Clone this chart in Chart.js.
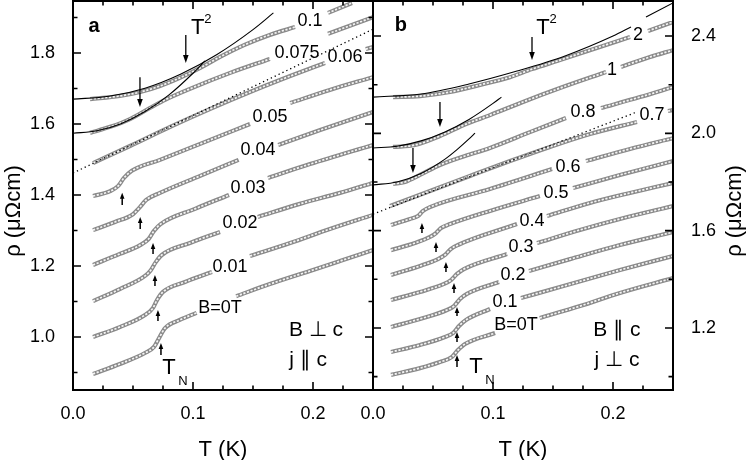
<!DOCTYPE html>
<html>
<head>
<meta charset="utf-8">
<script src="https://cdn.jsdelivr.net/npm/chart.js@4.4.1/dist/chart.umd.min.js"></script>
<style>
  html, body { margin: 0; padding: 0; background: #fff; }
  #wrap { position: relative; width: 747px; height: 460px; overflow: hidden; }
  #cA { position: absolute; left: 0; top: 0; }
  #cB { position: absolute; left: 340px; top: 0; }
</style>
</head>
<body>
<div id="wrap">
  <canvas id="cA" width="376" height="460"></canvas>
  <canvas id="cB" width="407" height="460"></canvas>
</div>
<script>
/* ---- Panel a: B ⊥ c, curves (T in K, rho in µΩcm), null = gap for the label ---- */
const aT_0   = [0.0167, 0.039, 0.060, 0.0675, 0.0717, 0.0767, 0.089, 0.103, 0.12, 0.136, 0.164, 0.1975, 0.2225, 0.25];
const aR_0   = [0.896, 0.924, 0.955, 0.972, 0.997, 1.025, 1.048, 1.068, null, 1.115, 1.149, 1.186, 1.214, 1.245];
const aT_01  = [0.0167, 0.039, 0.060, 0.0667, 0.070, 0.075, 0.0933, 0.1158, 0.13, 0.1475, 0.181, 0.214, 0.25];
const aR_01  = [1.000, 1.028, 1.062, 1.082, 1.104, 1.127, 1.155, 1.183, null, 1.228, 1.265, 1.304, 1.344];
const aT_02  = [0.0167, 0.039, 0.060, 0.065, 0.069, 0.074, 0.0975, 0.1225, 0.14, 0.154, 0.189, 0.2225, 0.25];
const aR_02  = [1.101, 1.135, 1.172, 1.189, 1.211, 1.231, 1.265, 1.296, null, 1.338, 1.375, 1.406, 1.434];
const aT_03  = [0.0167, 0.039, 0.056, 0.063, 0.0675, 0.073, 0.1017, 0.13, 0.146, 0.1625, 0.1975, 0.25];
const aR_03  = [1.203, 1.234, 1.259, 1.276, 1.299, 1.318, 1.361, 1.400, null, 1.448, 1.487, 1.541];
const aT_04  = [0.0167, 0.035, 0.05, 0.055, 0.061, 0.0725, 0.106, 0.138, 0.155, 0.171, 0.206, 0.25];
const aR_04  = [1.301, 1.324, 1.346, 1.363, 1.386, 1.406, 1.454, 1.499, null, 1.541, 1.583, 1.634];
const aT_05  = [0.0167, 0.031, 0.0375, 0.0425, 0.049, 0.0725, 0.106, 0.1475, 0.165, 0.181, 0.214, 0.25];
const aR_05  = [1.397, 1.411, 1.425, 1.448, 1.468, 1.499, 1.544, 1.600, null, 1.659, 1.696, 1.732];
const aT_06  = [0.0167, 0.0475, 0.081, 0.114, 0.1475, 0.181, 0.21, 0.227, 0.244, 0.25];
const aR_06  = [1.490, 1.538, 1.592, 1.642, 1.690, 1.735, 1.772, null, 1.811, 1.817];
const aT_075 = [0.0142, 0.031, 0.0475, 0.064, 0.0767, 0.0975, 0.131, 0.164, 0.187, 0.2125, 0.25];
const aR_075 = [1.575, 1.592, 1.614, 1.645, 1.668, 1.699, 1.744, 1.783, null, 1.854, 1.901];
const aT_1   = [0.0142, 0.039, 0.056, 0.0725, 0.089, 0.106, 0.1225, 0.143, 0.164, 0.185, 0.198, 0.2125, 0.2325];
const aR_1   = [1.670, 1.679, 1.690, 1.707, 1.730, 1.758, 1.789, 1.823, 1.851, 1.873, null, 1.913, 1.941];

// T^2 fits and linear fit (dotted)
const aFitT_075 = [0, 0.02, 0.04, 0.06, 0.08, 0.1, 0.11];
const aFitR_075 = [1.574, 1.581, 1.601, 1.635, 1.682, 1.743, 1.778];
const aFitT_1   = [0, 0.03, 0.06, 0.09, 0.12, 0.15, 0.167];
const aFitR_1   = [1.670, 1.678, 1.701, 1.741, 1.796, 1.866, 1.913];
const aLinT_06  = [0, 0.25];
const aLinR_06  = [1.462, 1.867];

/* ---- Panel b: B ∥ c ---- */
const bT_0  = [0.015, 0.0392, 0.0558, 0.0658, 0.0708, 0.0767, 0.1017, 0.12, 0.139, 0.1725, 0.2058, 0.25];
const bR_0  = [1.007, 1.035, 1.060, 1.081, 1.109, 1.134, 1.179, null, 1.241, 1.290, 1.344, 1.405];
const bT_01 = [0.015, 0.0392, 0.06, 0.0667, 0.0717, 0.0775, 0.0975, 0.11, 0.1233, 0.1558, 0.2058, 0.25];
const bR_01 = [1.101, 1.130, 1.163, 1.179, 1.208, 1.233, 1.278, null, 1.323, 1.368, 1.438, 1.496];
const bT_02 = [0.015, 0.0392, 0.0617, 0.0675, 0.0725, 0.0783, 0.105, 0.117, 0.13, 0.1642, 0.2058, 0.25];
const bR_02 = [1.204, 1.237, 1.274, 1.290, 1.319, 1.340, 1.389, null, 1.434, 1.483, 1.541, 1.594];
const bT_03 = [0.015, 0.0392, 0.0592, 0.065, 0.07, 0.0758, 0.1117, 0.123, 0.1367, 0.1725, 0.2058, 0.25];
const bR_03 = [1.315, 1.348, 1.381, 1.397, 1.422, 1.442, 1.504, null, 1.549, 1.603, 1.648, 1.701];
const bT_04 = [0.015, 0.0392, 0.0542, 0.06, 0.065, 0.0708, 0.12, 0.133, 0.145, 0.1808, 0.2142, 0.25];
const bR_04 = [1.418, 1.455, 1.483, 1.500, 1.525, 1.541, 1.627, null, 1.660, 1.714, 1.755, 1.796];
const bT_05 = [0.015, 0.035, 0.0475, 0.0525, 0.0567, 0.0642, 0.0975, 0.139, 0.153, 0.1667, 0.2058, 0.25];
const bR_05 = [1.520, 1.549, 1.574, 1.590, 1.611, 1.627, 1.681, 1.742, null, 1.775, 1.829, 1.886];
const bT_06 = [0.015, 0.0308, 0.0375, 0.0417, 0.0475, 0.0975, 0.1492, 0.163, 0.1775, 0.2142, 0.25];
const bR_06 = [1.623, 1.648, 1.660, 1.681, 1.697, 1.771, 1.853, null, 1.886, 1.936, 1.980];
const bT_07 = [0.0142, 0.0475, 0.0808, 0.1142, 0.1475, 0.1808, 0.22, 0.233, 0.2458, 0.25];
const bR_07 = [1.701, 1.763, 1.825, 1.886, 1.944, 1.997, 2.047, null, 2.092, 2.096];
const bT_08 = [0.0167, 0.0267, 0.0392, 0.0558, 0.0767, 0.0975, 0.1308, 0.1608, 0.175, 0.19, 0.2225, 0.25];
const bR_08 = [1.792, 1.800, 1.829, 1.870, 1.907, 1.940, 2.005, 2.063, null, 2.104, 2.149, 2.190];
const bT_1  = [0.0167, 0.035, 0.0558, 0.0775, 0.0975, 0.125, 0.1558, 0.1942, 0.2, 0.2067, 0.2308, 0.25];
const bR_1  = [1.944, 1.952, 1.989, 2.038, 2.075, 2.129, 2.186, 2.252, null, 2.273, 2.314, 2.342];
const bT_2  = [0.0167, 0.0392, 0.0642, 0.0892, 0.1142, 0.1325, 0.1558, 0.1808, 0.2142, 0.221, 0.2292, 0.25];
const bR_2  = [2.149, 2.153, 2.170, 2.199, 2.231, 2.264, 2.301, 2.342, 2.396, null, 2.421, 2.458];

const bFitT_08 = [0, 0.02, 0.04, 0.06, 0.07, 0.08, 0.085];
const bFitR_08 = [1.788, 1.800, 1.835, 1.894, 1.933, 1.977, 2.001];
const bFitT_1  = [0, 0.02, 0.04, 0.06, 0.08, 0.1, 0.107];
const bFitR_1  = [1.940, 1.947, 1.969, 2.006, 2.057, 2.123, 2.149];
const bFitT_2  = [0, 0.04, 0.08, 0.12, 0.16, 0.2, 0.215, 0.221, 0.2275, 0.25];
const bFitR_2  = [2.149, 2.162, 2.203, 2.256, 2.318, 2.400, 2.437, null, 2.478, 2.536];
const bLinT_07 = [0, 0.22];
const bLinR_07 = [1.668, 2.088];

/* ---- Axis ticks ---- */
const xMajor  = [0, 0.1, 0.2];
const xMinor  = [0.025, 0.05, 0.075, 0.125, 0.15, 0.175, 0.225];
const aYMajor = [1.0, 1.2, 1.4, 1.6, 1.8];
const aYMinor = [0.9, 1.1, 1.3, 1.5, 1.7, 1.9];
const bYMajor = [1.2, 1.6, 2.0, 2.4];
const bYMinor = [1.0, 1.4, 1.8, 2.2];

/* ---- Annotations: curve labels [text, T, rho], arrows [T, rhoTail, rhoTip] ---- */
const aLabels = [['B=0T', 0.1225, 1.082], ['0.01', 0.1308, 1.197], ['0.02', 0.1392, 1.321],
  ['0.03', 0.1458, 1.420], ['0.04', 0.1542, 1.527], ['0.05', 0.1642, 1.620],
  ['0.075', 0.1867, 1.800], ['0.06', 0.2267, 1.789], ['0.1', 0.1975, 1.890]];
const bLabels = [['B=0T', 0.1192, 1.212], ['0.1', 0.11, 1.307], ['0.2', 0.1167, 1.418],
  ['0.3', 0.1233, 1.533], ['0.4', 0.1325, 1.640], ['0.5', 0.1525, 1.755],
  ['0.6', 0.1625, 1.862], ['0.7', 0.2325, 2.075], ['0.8', 0.175, 2.088],
  ['1', 0.1992, 2.260], ['2', 0.2208, 2.404]];
const aFitArrows = [[0.094, 1.851, 1.772], [0.0558, 1.732, 1.648]];
const aTnArrows  = [[0.041, 1.372, 1.406], [0.056, 1.304, 1.338], [0.0667, 1.234, 1.265],
  [0.0683, 1.144, 1.175], [0.0708, 1.045, 1.076], [0.0733, 0.949, 0.983]];
const bFitArrows = [[0.1325, 2.396, 2.301], [0.0558, 2.129, 2.026], [0.0333, 1.940, 1.837]];
const bTnArrows  = [[0.0408, 1.590, 1.631], [0.0525, 1.512, 1.553], [0.0608, 1.430, 1.471],
  [0.0675, 1.344, 1.385], [0.07, 1.249, 1.286], [0.07, 1.142, 1.183], [0.07, 1.040, 1.089]];

const FONT = '"Liberation Sans", Arial, Helvetica, sans-serif';
Chart.defaults.font.family = FONT;
Chart.defaults.color = '#000';

/* ---- helpers ---- */
const pts = (T, R) => T.map((t, i) => ({ x: t, y: R[i] }));

function chain(T, R) {
  // open-circle chain look: gray band with a broken light core
  return [
    { data: pts(T, R), showLine: true, borderColor: '#8a8a8a', borderWidth: 4.2, pointRadius: 0,
      spanGaps: false, cubicInterpolationMode: 'monotone', order: 3 },
    { data: pts(T, R), showLine: true, borderColor: '#f4f4f4', borderWidth: 1.7, borderDash: [2.2, 1.6],
      pointRadius: 0, spanGaps: false, cubicInterpolationMode: 'monotone', order: 2 }
  ];
}
function fitLine(T, R, dotted) {
  return { data: pts(T, R), showLine: true, borderColor: '#000', borderWidth: dotted ? 1.3 : 1.1,
    borderDash: dotted ? [1.3, 3] : [], pointRadius: 0, spanGaps: false,
    cubicInterpolationMode: 'monotone', order: 1 };
}

function arrow(ctx, x, y0, y1, head, hw, lw) {
  const dir = Math.sign(y1 - y0);
  ctx.lineWidth = lw;
  ctx.beginPath();
  ctx.moveTo(x, y0);
  ctx.lineTo(x, y1 - dir * head * 0.8);
  ctx.stroke();
  ctx.beginPath();
  ctx.moveTo(x, y1);
  ctx.lineTo(x - hw, y1 - dir * head);
  ctx.lineTo(x + hw, y1 - dir * head);
  ctx.closePath();
  ctx.fill();
}

function textAt(ctx, s, x, y, size, bold) {
  ctx.font = (bold ? 'bold ' : '') + size + 'px ' + FONT;
  ctx.textAlign = 'center';
  ctx.textBaseline = 'middle';
  ctx.fillText(s, x, y);
}

/* ---- Decoration plugin: frame, inward ticks, labels, arrows ---- */
function decor(p) {
  return {
    id: 'decor',
    afterDatasetsDraw(chart) {
      const { ctx, chartArea: ca, scales: { x, y } } = chart;
      ctx.save();
      ctx.fillStyle = '#000';
      ctx.strokeStyle = '#000';

      p.fitArrows.forEach(([t, r0, r1]) =>
        arrow(ctx, x.getPixelForValue(t), y.getPixelForValue(r0), y.getPixelForValue(r1), 8, 2.8, 1.3));
      p.tnArrows.forEach(([t, r0, r1]) =>
        arrow(ctx, x.getPixelForValue(t), y.getPixelForValue(r0), y.getPixelForValue(r1), 6, 2.3, 1.5));

      p.labels.forEach(([s, t, r]) => textAt(ctx, s, x.getPixelForValue(t), y.getPixelForValue(r), 18));

      // panel letter, T^2, field/current text, T_N
      textAt(ctx, p.letter[0], x.getPixelForValue(p.letter[1]), y.getPixelForValue(p.letter[2]), 20, true);
      const t2x = x.getPixelForValue(p.t2[0]), t2y = y.getPixelForValue(p.t2[1]);
      textAt(ctx, 'T', t2x, t2y, 22);
      textAt(ctx, '2', t2x + 10, t2y - 9, 13);
      const tnx = x.getPixelForValue(p.tn[0]), tny = y.getPixelForValue(p.tn[1]);
      textAt(ctx, 'T', tnx, tny, 22);
      textAt(ctx, 'N', tnx + 14, tny + 14, 13);
      p.geom.forEach(([s, t, r]) => textAt(ctx, s, x.getPixelForValue(t), y.getPixelForValue(r), 21));

      // frame
      ctx.lineWidth = 2;
      ctx.strokeRect(ca.left, ca.top, ca.right - ca.left, ca.bottom - ca.top);

      // inward ticks on all four sides
      ctx.lineWidth = 1.6;
      ctx.beginPath();
      const yTick = (v, len) => {
        const py = y.getPixelForValue(v);
        ctx.moveTo(ca.left, py); ctx.lineTo(ca.left + len, py);
        ctx.moveTo(ca.right, py); ctx.lineTo(ca.right - len, py);
      };
      const xTick = (v, len) => {
        const px = x.getPixelForValue(v);
        ctx.moveTo(px, ca.bottom); ctx.lineTo(px, ca.bottom - len);
        ctx.moveTo(px, ca.top); ctx.lineTo(px, ca.top + len);
      };
      p.yMajor.forEach(v => yTick(v, 8));
      p.yMinor.forEach(v => yTick(v, 4.5));
      xMajor.forEach(v => xTick(v, 8));
      xMinor.forEach(v => xTick(v, 4.5));
      ctx.stroke();

      // rotated y title
      ctx.save();
      ctx.translate(p.yTitleX, 211);
      ctx.rotate(-Math.PI / 2);
      textAt(ctx, 'ρ (μΩcm)', 0, 0, 22);
      ctx.restore();

      ctx.restore();
    }
  };
}

function makePanel(canvasId, sets, yMin, yMax, yMajor, side, pad, axisW, deco) {
  return new Chart(document.getElementById(canvasId), {
    type: 'scatter',
    data: { datasets: sets },
    options: {
      responsive: false,
      animation: false,
      events: [],
      layout: { padding: pad },
      plugins: { legend: { display: false }, tooltip: { enabled: false } },
      scales: {
        x: {
          type: 'linear', position: 'bottom', min: 0, max: 0.25,
          afterBuildTicks: s => { s.ticks = xMajor.map(v => ({ value: v })); },
          afterFit: s => { s.height = 70; s.paddingLeft = 0; s.paddingRight = 0; },
          grid: { display: false }, border: { display: false },
          ticks: { font: { size: 18 }, padding: 5, maxRotation: 0, autoSkip: false,
                   callback: v => Number(v).toFixed(1) },
          title: { display: true, text: 'T (K)', font: { size: 22 }, padding: { top: 0, bottom: -3 } }
        },
        y: {
          type: 'linear', position: side, min: yMin, max: yMax,
          afterBuildTicks: s => { s.ticks = yMajor.map(v => ({ value: v })); },
          afterFit: s => { s.width = axisW; s.paddingTop = 0; s.paddingBottom = 0; },
          grid: { display: false }, border: { display: false },
          ticks: { font: { size: 18 }, padding: 10, autoSkip: false,
                   callback: v => Number(v).toFixed(1) }
        }
      }
    },
    plugins: [decor(deco)]
  });
}

/* ---- Panel a ---- */
const setsA = [
  ...chain(aT_0, aR_0), ...chain(aT_01, aR_01), ...chain(aT_02, aR_02), ...chain(aT_03, aR_03),
  ...chain(aT_04, aR_04), ...chain(aT_05, aR_05), ...chain(aT_06, aR_06), ...chain(aT_075, aR_075),
  ...chain(aT_1, aR_1),
  fitLine(aFitT_075, aFitR_075), fitLine(aFitT_1, aFitR_1), fitLine(aLinT_06, aLinR_06, true)
];
makePanel('cA', setsA, 0.8507, 1.9465, aYMajor, 'left', { top: 1, right: 3, left: 0, bottom: 0 }, 73, {
  yMajor: aYMajor, yMinor: aYMinor, labels: aLabels,
  fitArrows: aFitArrows, tnArrows: aTnArrows,
  letter: ['a', 0.0175, 1.876], t2: [0.104, 1.870], tn: [0.08, 0.913],
  geom: [['B ⊥ c', 0.2025, 1.020], ['j ∥ c', 0.196, 0.935]],
  yTitleX: 14
});

/* ---- Panel b ---- */
const setsB = [
  ...chain(bT_0, bR_0), ...chain(bT_01, bR_01), ...chain(bT_02, bR_02), ...chain(bT_03, bR_03),
  ...chain(bT_04, bR_04), ...chain(bT_05, bR_05), ...chain(bT_06, bR_06), ...chain(bT_07, bR_07),
  ...chain(bT_08, bR_08), ...chain(bT_1, bR_1), ...chain(bT_2, bR_2),
  fitLine(bFitT_08, bFitR_08), fitLine(bFitT_1, bFitR_1), fitLine(bFitT_2, bFitR_2),
  fitLine(bLinT_07, bLinR_07, true)
];
makePanel('cB', setsB, 0.945, 2.544, bYMajor, 'right', { top: 1, right: 0, left: 33, bottom: 0 }, 74, {
  yMajor: bYMajor, yMinor: bYMinor, labels: bLabels,
  fitArrows: bFitArrows, tnArrows: bTnArrows,
  letter: ['b', 0.0233, 2.445], t2: [0.1417, 2.433], tn: [0.0858, 1.040],
  geom: [['B ∥ c', 0.2033, 1.192], ['j ⊥ c', 0.2033, 1.068]],
  yTitleX: 395
});
</script>
</body>
</html>
